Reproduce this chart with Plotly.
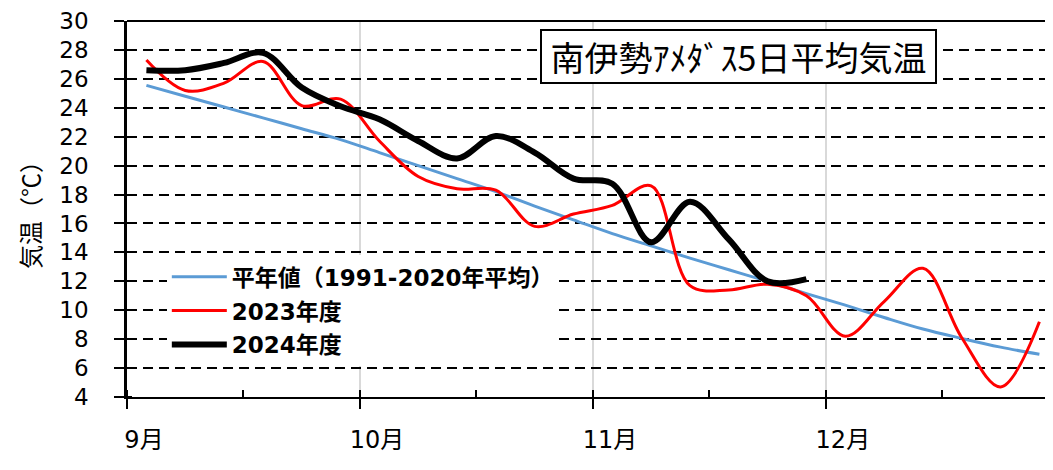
import numpy as np
import plotly.graph_objects as go

# 5-day (pentad) periods: 6 per month, Sep..Dec
month_labels = ["9月", "10月", "11月", "12月"]
n_pentads = 24

normal = [25.55, 24.8, 24.05, 23.3, 22.55, 21.8, 20.9, 20.0, 19.1, 18.2, 17.2, 16.25,
          15.3, 14.45, 13.6, 12.8, 12.0, 11.15, 10.35, 9.5, 8.7, 8.05, 7.45, 6.95]
y2023 = [27.3, 25.2, 25.7, 27.2, 24.15, 24.6, 21.7, 19.25, 18.4, 18.3, 15.8, 16.65,
         17.25, 18.6, 11.7, 11.4, 11.8, 11.0, 8.2, 10.6, 12.9, 8.1, 4.7, 9.2]
y2024 = [26.6, 26.6, 27.1, 27.8, 25.4, 24.1, 23.2, 21.7, 20.5, 22.05, 20.9, 19.1,
         18.75, 14.7, 17.5, 14.9, 12.0, 12.15]

names = ["平年値（1991-2020年平均）", "2023年度", "2024年度"]
title_text = "南伊勢ｱﾒﾀﾞｽ5日平均気温"

FONT = "Noto Sans CJK JP"
MIX = "DejaVu Sans, Noto Sans CJK JP"
x_all = np.arange(n_pentads) + 0.5

fig = go.Figure()
series = [(normal, "#5B9BD5", 3), (y2023, "#FF0000", 3), (y2024, "#000000", 6)]
for i, (vals, col, w) in enumerate(series):
    fig.add_trace(go.Scatter(
        x=x_all[:len(vals)], y=vals, mode="lines", name=names[i],
        line=dict(color=col, width=w, shape="spline", smoothing=1.0),
        legendgroup=f"g{i}",
    ))

# page body has an 8px default margin: compensate so the plot area lands where the reference has it
fig.update_layout(
    width=1053, height=470,
    margin=dict(l=119, r=8, t=13, b=81),
    paper_bgcolor="white", plot_bgcolor="white",
    font=dict(family=FONT, color="black"),
    showlegend=True,
    legend=dict(
        x=0.043, y=0.377, xanchor="left", yanchor="top",
        bgcolor="white", borderwidth=0,
        font=dict(family=MIX, size=23, color="black", weight="bold"),
        traceorder="grouped", tracegroupgap=1,
        itemwidth=55, entrywidth=360, entrywidthmode="pixels",
    ),
    shapes=[
        dict(type="line", xref="paper", yref="paper",
             x0=0, x1=1, y0=1, y1=1,
             line=dict(color="black", width=2), layer="above"),
    ],
    annotations=[dict(
        text=title_text, xref="paper", yref="paper", x=0.66, y=0.906,
        xanchor="center", yanchor="middle", showarrow=False,
        font=dict(family=FONT, size=34, color="black"),
        bgcolor="white", bordercolor="black", borderwidth=2,
        width=391, height=49,
    )],
)

fig.update_xaxes(
    range=[0, 23.85], tickmode="array",
    tickvals=[0, 6, 12, 18], ticktext=month_labels,
    ticks="outside", ticklen=10, tickwidth=2, tickcolor="black",
    ticklabelshift=17, ticklabelstandoff=10,
    tickfont=dict(family=MIX, size=24, color="black"),
    showline=True, linewidth=2, linecolor="black",
    showgrid=True, gridcolor="#D9D9D9", gridwidth=2,
    zeroline=False, automargin=False,
    minor=dict(tickmode="array", tickvals=[0, 3, 6, 9, 12, 15, 18, 21],
               ticks="inside", ticklen=7, tickwidth=2, tickcolor="black",
               showgrid=False),
)

fig.update_yaxes(
    range=[4, 30], tickmode="linear", tick0=4, dtick=2,
    ticks="outside", ticklen=10, tickwidth=2, tickcolor="black",
    ticklabelstandoff=21, ticklabeloverflow="allow",
    tickfont=dict(family="DejaVu Sans", size=23, color="black"),
    showline=True, linewidth=2.5, linecolor="black",
    showgrid=True, gridcolor="black", gridwidth=2, griddash="10px,6px",
    zeroline=False, automargin=False,
    title=dict(text="気温（℃）", font=dict(family=FONT, size=24, color="black"), standoff=12),
    minor=dict(tickmode="array", tickvals=list(range(4, 31, 2)),
               ticks="inside", ticklen=5, tickwidth=2, tickcolor="black",
               showgrid=False),
)

fig.write_html("out.html")
